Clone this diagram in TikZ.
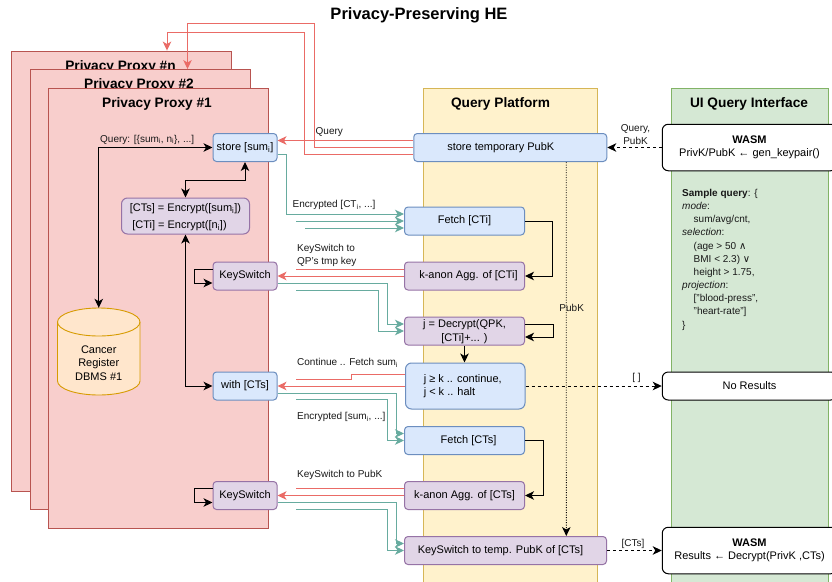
\documentclass[tikz,border=0pt]{standalone}
\usepackage{fontspec}
\setmainfont{Liberation Sans}
\newfontfamily\symf{DejaVu Sans}
\usetikzlibrary{arrows.meta}
\definecolor{bluef}{HTML}{DAE8FC}\definecolor{blued}{HTML}{6C8EBF}
\definecolor{purf}{HTML}{E1D5E7}\definecolor{purd}{HTML}{9673A6}
\definecolor{redf}{HTML}{F8CECC}\definecolor{redd}{HTML}{B85450}
\definecolor{yelf}{HTML}{FFF2CC}\definecolor{yeld}{HTML}{D6B656}
\definecolor{grnf}{HTML}{D5E8D4}\definecolor{grnd}{HTML}{82B366}
\definecolor{orf}{HTML}{FFE6CC}\definecolor{ord}{HTML}{D79B00}
\definecolor{lred}{HTML}{EA6B66}\definecolor{lgrn}{HTML}{67AB9F}
\newcommand{\lowi}{\textsubscript{i}}
\newcommand{\dn}[1]{\raisebox{-1pt}{#1}}
\tikzset{
  box/.style={draw,line width=1pt,rounded corners=3.5pt,minimum width=#1,minimum height=28pt,inner sep=0pt,font=\fontsize{11}{13.5}\selectfont,align=center},
  bluebox/.style={box=#1,draw=blued,fill=bluef},
  purbox/.style={box=#1,draw=purd,fill=purf},
  whitebox/.style={box=174.5pt,draw=black,fill=white,rounded corners=6pt},
  proxy/.style={draw=redd,fill=redf,line width=0.9pt,minimum width=220pt,minimum height=440pt,inner sep=0pt},
  lane/.style={line width=0.9pt,inner sep=0pt},
  heading/.style={font=\fontsize{13.7}{16}\bfseries\selectfont,inner sep=0pt},
  lbl/.style={font=\fontsize{10}{13}\selectfont,inner sep=0pt,text=black!90,anchor=west,align=left},
  lblc/.style={font=\fontsize{10}{13}\selectfont,inner sep=0pt,text=black!90,align=center},
  tip/.style={-{Stealth[length=9pt,width=8.5pt,inset=2.5pt]}},
  tips/.style={{Stealth[length=9pt,width=8.5pt,inset=2.5pt]}-{Stealth[length=9pt,width=8.5pt,inset=2.5pt]}},
  redl/.style={draw=lred,line width=1pt},
  grnl/.style={draw=lgrn,line width=1pt},
  blk/.style={draw=black,line width=1pt},
  dsh/.style={draw=black,line width=0.9pt,dash pattern=on 3pt off 3pt},
}
\begin{document}
\begin{tikzpicture}[x=1pt,y=-1pt]
\clip (0,0) rectangle (832,581);
\useasboundingbox (0,0) rectangle (832,581);
\fill[white] (0,0) rectangle (832,581);
\node[font=\fontsize{16.5}{19}\bfseries\selectfont,inner sep=0pt] (title) at (419,15.5) {Privacy-Preserving HE};
% lanes
\node[lane,draw=yeld,fill=yelf,minimum width=174.5pt,minimum height=520pt] (qp) at (510.25,348) {};
\node[lane,draw=grnd,fill=grnf,minimum width=157pt,minimum height=520pt] (ui) at (749.5,348) {};
\node[heading] (qptitle) at (500.5,103.5) {Query Platform};
\node[heading] (uititle) at (749,103.5) {UI Query Interface};
% proxies
\node[proxy] (pxn) at (121.5,271) {};
\node[heading] (pxnt) at (120.5,66.5) {Privacy Proxy \#n};
\node[proxy] (px2) at (140,289.5) {};
\node[heading] (px2t) at (139,84.5) {Privacy Proxy \#2};
\node[proxy] (px1) at (158,308) {};
\node[heading] (px1t) at (157,103.5) {Privacy Proxy \#1};
% database
\draw[draw=ord,fill=orf,line width=0.9pt] (57.5,322) -- (57.5,381) arc[start angle=180,end angle=360,x radius=41.25pt,y radius=14pt] -- (140,322) arc[start angle=0,end angle=180,x radius=41.25pt,y radius=14pt] -- cycle;
\draw[draw=ord,line width=0.9pt] (57.5,322) arc[start angle=180,end angle=360,x radius=41.25pt,y radius=14pt];
\node[minimum width=82.5pt,minimum height=87pt,inner sep=0pt,align=center,font=\fontsize{11}{13.4}\selectfont] (db) at (98.75,351.5) {\mbox{}\\[17.5pt]Cancer\\Register\\DBMS \#1};
% proxy boxes
\node[bluebox=64pt] (st) at (245,147.5) {\dn{store [sum\lowi]}};
\node[purbox=128pt,minimum height=36pt,rounded corners=6pt,font=\fontsize{11}{17}\selectfont] (enc) at (185.5,216) {\rule{0pt}{10.5pt}[CTs] = Encrypt([sum\lowi])\\{}[CTi] = Encrypt([n\lowi])\hspace*{12pt}};
\node[purbox=64pt] (ks1) at (245,276) {\dn{KeySwitch}};
\node[bluebox=64pt] (with) at (245,386) {\dn{with [CTs]}};
\node[purbox=64pt] (ks2) at (245,495.5) {\dn{KeySwitch}};
% platform boxes
\node[bluebox=193pt] (qs) at (510.25,147.5) {\hspace*{-19pt}\dn{store temporary PubK}};
\node[bluebox=120pt] (f1) at (464.5,221) {\dn{Fetch [CTi]}};
\node[purbox=120pt] (k1) at (464.5,276) {\hspace*{8pt}\dn{k-anon Agg. of [CTi]}};
\node[purbox=120pt,font=\fontsize{11}{13.5}\selectfont] (dec) at (464.5,331) {\rule{0pt}{9.5pt}j = Decrypt(QPK,\\{}[CTi]+... )};
\node[bluebox=119.5pt,minimum height=46pt,rounded corners=6pt,align=left,font=\fontsize{11}{13}\selectfont] (jk) at (465.25,386) {j ≥ k .. continue,\hspace*{5pt}\\j < k .. halt};
\node[bluebox=120pt] (f2) at (464.5,440.5) {\hspace*{8pt}\dn{Fetch [CTs]}};
\node[purbox=120pt] (k2) at (464.5,495.5) {\dn{k-anon Agg. of [CTs]}};
\node[purbox=202pt] (ksq) at (505.5,550.5) {\hspace*{-10pt}\dn{KeySwitch to temp. PubK of [CTs]}};
% UI boxes
\node[whitebox,minimum height=46.5pt] (w1) at (749.5,147.5) {\textbf{WASM}\\PrivK/PubK ← gen\_keypair()};
\node[whitebox] (nr) at (749.5,386) {\dn{No Results}};
\node[whitebox,minimum height=46.5pt] (w2) at (749.5,550.5) {\textbf{WASM}\\Results ← Decrypt(PrivK ,CTs)};
\node[inner sep=0pt,anchor=north west,align=left,font=\fontsize{10}{13.16}\selectfont,text=black!90] (sq) at (682,189) {\textbf{Sample query}: \{\\
\textit{mode}:\\
\hspace*{11.5pt}sum/avg/cnt,\\
\textit{selection}:\\
\hspace*{11.5pt}(age > 50 {\symf\fontsize{10}{13.16}\selectfont ∧}\\
\hspace*{11.5pt}BMI < 2.3) {\symf\fontsize{10}{13.16}\selectfont ∨}\\
\hspace*{11.5pt}height > 1.75,\\
\textit{projection}:\\
\hspace*{11.5pt}["blood-press",\\
\hspace*{11.5pt}"heart-rate"]\\
\}};
% free ends
\coordinate (g1) at (296,221);
\coordinate (g2) at (305,228);
\coordinate (g3) at (296,290);
\coordinate (g4) at (296,399.5);
\coordinate (g5) at (296,509.5);
\coordinate (r1) at (296,269);
\coordinate (r2) at (296,379);
\coordinate (r3) at (296,488.5);
% red connectors
\draw[redl,tip] (qs.west) -| (314,23.5) -| ([xshift=47.5pt]px2.north);
\draw[redl,tip] ([yshift=-7pt]qs.west) -| (304.7,32.5) -| ([xshift=45.5pt]pxn.north);
\draw[redl,tip] ([yshift=7pt]qs.west) -- ([yshift=7pt]st.east);
\draw[redl,tip] (k1.west) -- (ks1.east);
\draw[redl] ([yshift=7pt]k1.west) -- (r1);
\draw[redl,tip] (jk.west) -- (with.east);
\draw[redl] ([yshift=11.5pt]jk.west) -- (351,374.5) -- (351,379) -- (r2);
\draw[redl,tip] (k2.west) -- (ks2.east);
\draw[redl] ([yshift=7pt]k2.west) -- (r3);
% green connectors
\draw[grnl,tip] ([yshift=-7pt]st.east) -| (286.7,214) -- ([yshift=7pt]f1.west);
\draw[grnl,tip] (g1) -- (f1.west);
\draw[grnl,tip] (g2) -- ([yshift=-7pt]f1.west);
\draw[grnl,tip] ([yshift=-7pt]ks1.east) -| (387.5,324) -- ([yshift=7pt]dec.west);
\draw[grnl,tip] (g3) -| (378,331) -- (dec.west);
\draw[grnl,tip] ([yshift=-7pt]with.east) -| (396.5,433.5) -- ([yshift=7pt]f2.west);
\draw[grnl,tip] (g4) -| (387.5,440.5) -- (f2.west);
\draw[grnl,tip] ([yshift=-7pt]ks2.east) -| (396.5,543.5) -- ([yshift=7pt]ksq.west);
\draw[grnl,tip] (g5) -| (387.5,550.5) -- (ksq.west);
% black connectors
\draw[blk,tips] (st.west) -| (db.north);
\draw[blk,tips] (st.south) -- ++(0,18) -| (enc.north);
\draw[blk,tips] (enc.south) |- (with.west);
\draw[blk,tip] ([yshift=7pt]ks1.west) -- ++(-18.5,0) |- ([yshift=-7pt]ks1.west);
\draw[blk,tip] ([yshift=7pt]ks2.west) -- ++(-18.5,0) |- ([yshift=-7pt]ks2.west);
\draw[blk,tip] (f1.east) -- ++(27.2,0) |- (k1.east);
\draw[blk,tip] ([yshift=7pt]dec.east) -- ++(28.2,0) |- ([yshift=-6pt]dec.east);
\draw[blk,tip] (dec.south) -- ([xshift=-0.75pt]jk.north);
\draw[blk,tip] (f2.east) -- ++(18,0) |- (k2.east);
% dashed and dotted connectors
\draw[dsh,tip] (w1.west) -- (qs.east);
\draw[dsh,tip] (jk.east) -- (nr.west);
\draw[dsh,tip] (ksq.east) -- (w2.west);
\draw[draw=black,line width=0.9pt,dash pattern=on 1pt off 1.5pt,tip] ([xshift=56pt]qs.south) -- ([xshift=60.8pt]ksq.north);
% labels
\node[lblc] (lpubk) at (571.7,308) {PubK};
\node[lblc] (lqp) at (635.5,135) {Query,\\PubK};
\node[lblc] (lempty) at (636.5,378) {[ ]};
\node[lblc] (lcts) at (633,544) {[CTs]};
\node[lbl] (l1) at (100,139.5) {Query: [\{sum\lowi, n\lowi\}, ...]};
\node[lbl] (l2) at (315.5,132) {Query};
\node[lbl] (l3) at (292.5,205) {Encrypted [CT\lowi, ...]};
\node[lbl] (l4) at (297,255) {KeySwitch to\\QP's tmp key};
\node[lbl] (l5) at (297,363) {Continue .. Fetch sum\lowi};
\node[lbl] (l6) at (297,417) {Encrypted [sum\lowi, ...]};
\node[lbl] (l7) at (297,474.5) {KeySwitch to PubK};
\end{tikzpicture}
\end{document}
